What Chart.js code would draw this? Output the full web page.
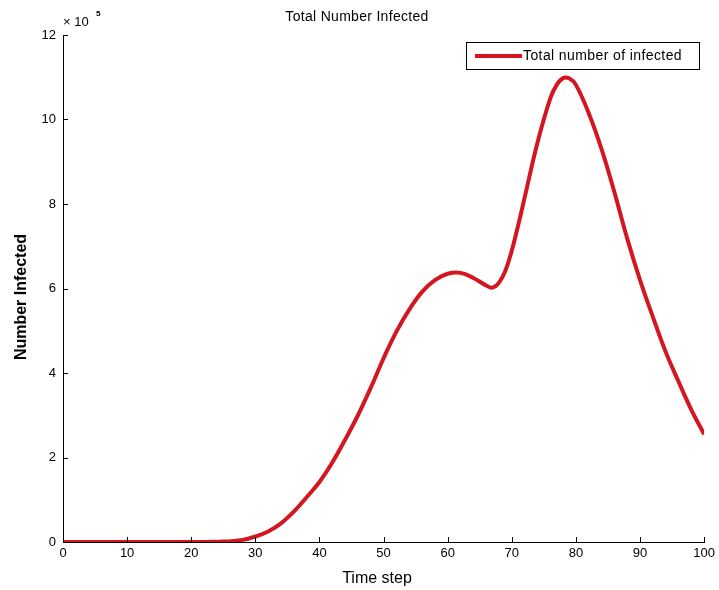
<!DOCTYPE html>
<html>
<head>
<meta charset="utf-8">
<script src="https://cdn.jsdelivr.net/npm/chart.js@4.4.0/dist/chart.umd.min.js"></script>
<style>
  html, body { margin: 0; padding: 0; background: #fff; }
  #wrap { width: 719px; height: 590px; position: relative; }
</style>
</head>
<body>
<div id="wrap"><canvas id="chart"></canvas></div>
<script>
// values, y in units of 10^5
const timeSteps = [0, 5, 10, 15, 20, 25, 28, 30, 32, 34, 36, 38, 40, 42, 44, 46, 48, 50, 52, 54, 56, 58, 60, 62, 64, 66, 67, 68, 69, 70, 71, 72, 74, 76, 77, 78, 79, 80, 82, 84, 86, 88, 90, 92, 94, 96, 98, 100];
const infected = [0, 0, 0, 0, 0, 0.01, 0.05, 0.13, 0.25, 0.44, 0.72, 1.06, 1.42, 1.88, 2.42, 3.0, 3.65, 4.35, 4.98, 5.5, 5.92, 6.2, 6.35, 6.37, 6.25, 6.07, 6.02, 6.14, 6.42, 6.9, 7.5, 8.15, 9.45, 10.5, 10.82, 10.98, 10.97, 10.82, 10.15, 9.3, 8.28, 7.18, 6.2, 5.33, 4.5, 3.8, 3.13, 2.55];
const xTicks = [0, 10, 20, 30, 40, 50, 60, 70, 80, 90, 100];
const yTicks = [0, 2, 4, 6, 8, 10, 12];

const FONT = '"Liberation Sans", Arial, sans-serif';
const RED = 'rgb(212, 22, 32)';

Chart.defaults.font.family = FONT;
Chart.defaults.color = '#000';

// matlab-ish extras: inward ticks, exponent, titles, boxed legend
const decor = {
    id: 'decor',
    afterDraw(chart) {
        const { ctx, chartArea: a, scales: { x, y } } = chart;
        ctx.save();
        ctx.strokeStyle = '#000';
        ctx.lineWidth = 1;
        ctx.beginPath();
        xTicks.forEach(v => {
            const px = Math.round(x.getPixelForValue(v)) + 0.5;
            ctx.moveTo(px, a.bottom);
            ctx.lineTo(px, a.bottom - 5);
        });
        yTicks.forEach(v => {
            const py = Math.round(y.getPixelForValue(v)) + 0.5;
            ctx.moveTo(a.left, py);
            ctx.lineTo(a.left + 5, py);
        });
        ctx.stroke();

        ctx.fillStyle = '#000';
        ctx.textAlign = 'left';
        ctx.textBaseline = 'alphabetic';
        ctx.font = '13px ' + FONT;
        ctx.fillText('\u00d7 10', a.left, a.top - 9);
        ctx.font = 'bold 8px ' + FONT;
        ctx.fillText('5', a.left + 33, a.top - 19);

        ctx.textAlign = 'center';
        ctx.textBaseline = 'middle';
        ctx.font = '14px ' + FONT;
        ctx.letterSpacing = '0.3px';
        ctx.fillText('Total Number Infected', 357, 17);
        ctx.letterSpacing = '0px';
        ctx.font = '16px ' + FONT;
        ctx.fillText('Time step', 377, 579);

        ctx.save();
        ctx.translate(22, 297);
        ctx.rotate(-Math.PI / 2);
        ctx.font = 'bold 16px ' + FONT;
        ctx.fillText('Number Infected', 0, 0);
        ctx.restore();

        // legend box
        const ds = chart.data.datasets[0];
        ctx.fillStyle = '#fff';
        ctx.fillRect(466, 42, 233, 27);
        ctx.strokeStyle = '#000';
        ctx.strokeRect(466.5, 42.5, 233, 27);
        ctx.strokeStyle = ds.borderColor;
        ctx.lineWidth = ds.borderWidth;
        ctx.beginPath();
        ctx.moveTo(475, 56);
        ctx.lineTo(522, 56);
        ctx.stroke();
        ctx.fillStyle = '#000';
        ctx.textAlign = 'left';
        ctx.font = '14px ' + FONT;
        ctx.letterSpacing = '0.4px';
        ctx.fillText(ds.label, 523, 56);
        ctx.restore();
    }
};

new Chart(document.getElementById('chart'), {
    type: 'line',
    data: {
        datasets: [{
            label: 'Total number of infected',
            data: timeSteps.map((t, i) => ({ x: t, y: infected[i] })),
            borderColor: RED,
            borderWidth: 4,
            pointRadius: 0,
            tension: 0.4,
            fill: false
        }]
    },
    options: {
        responsive: true,
        maintainAspectRatio: false,
        animation: false,
        layout: { padding: { top: 35, right: 12, left: 0, bottom: 0 } },
        scales: {
            x: {
                type: 'linear',
                min: 0,
                max: 100,
                afterBuildTicks: s => { s.ticks = xTicks.map(v => ({ value: v })); },
                afterFit: s => { s.height = 48; },
                grid: { display: false, drawTicks: false },
                border: { display: true, color: '#000', width: 1 },
                ticks: { padding: 4, font: { size: 13 }, color: '#000', maxRotation: 0 }
            },
            y: {
                min: 0,
                max: 12,
                afterBuildTicks: s => { s.ticks = yTicks.map(v => ({ value: v })); },
                afterFit: s => { s.width = 63; },
                grid: { display: false, drawTicks: false },
                border: { display: true, color: '#000', width: 1 },
                ticks: { padding: 7, font: { size: 13 }, color: '#000' }
            }
        },
        plugins: {
            legend: { display: false },
            title: { display: false },
            tooltip: { enabled: false }
        }
    },
    plugins: [decor]
});
</script>
</body>
</html>
